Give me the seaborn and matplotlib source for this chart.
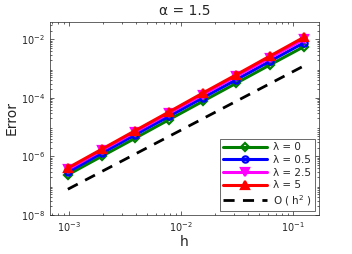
import numpy as np
import pandas as pd
import matplotlib
matplotlib.use("Agg")
import matplotlib.pyplot as plt
import seaborn as sns

h = [1/8, 1/16, 1/32, 1/64, 1/128, 1/256, 1/512, 1/1024]
err_l0 = [5.6e-3, 1.35e-3, 3.2e-4, 7.6e-5, 1.8e-5, 4.2e-6, 1.0e-6, 2.35e-7]
err_l05 = [7.6e-3, 1.8e-3, 4.2e-4, 1.0e-4, 2.35e-5, 5.5e-6, 1.28e-6, 2.9e-7]
err_l25 = [1.0e-2, 2.35e-3, 5.5e-4, 1.28e-4, 3.0e-5, 6.9e-6, 1.6e-6, 3.6e-7]
err_l5 = [1.17e-2, 2.7e-3, 6.2e-4, 1.45e-4, 3.3e-5, 7.6e-6, 1.74e-6, 4.0e-7]
ref_C = 0.079
labels = ["λ = 0", "λ = 0.5", "λ = 2.5", "λ = 5", "O ( h$^2$ )"]

sns.set_style("ticks")
plt.rcParams['font.family'] = ['DejaVu Sans']
plt.rcParams['mathtext.fontset'] = 'dejavusans'

fig = plt.figure(figsize=(3.52, 2.54), dpi=100)
ax = fig.add_axes([0.142, 0.154, 0.764, 0.759])

series = [
    (err_l0, "#007f00", "D", "none", 4.5),
    (err_l05, "#0000ff", "o", "none", 4.5),
    (err_l25, "#ff00ff", "v", "#ff00ff", 5.5),
    (err_l5, "#ff0000", "^", "#ff0000", 5.5),
]
for (vals, col, mk, fc, ms), lab in zip(series, labels[:4]):
    df = pd.DataFrame({"h": h, "err": vals})
    sns.lineplot(data=df, x="h", y="err", ax=ax, color=col, lw=2.2, marker=mk,
                 markersize=ms, markerfacecolor=fc, markeredgecolor=col,
                 markeredgewidth=1.6, label=lab)
ref = [ref_C * v**2 for v in h]
sns.lineplot(x=h, y=ref, ax=ax, color="black", lw=2.0, linestyle=(0, (4, 3)), label=labels[4])

ax.set_xscale("log")
ax.set_yscale("log")
ax.set_xlim(10**-3.17, 10**-0.768)
ax.set_ylim(1e-8, 10**-1.41)
ax.set_yticks([1e-8, 1e-6, 1e-4, 1e-2])
ax.set_xticks([1e-3, 1e-2, 1e-1])
ax.tick_params(which="both", direction="in", top=True, right=True, labelsize=7, width=0.5, color="#262626")
ax.tick_params(which="major", length=3)
ax.tick_params(which="minor", length=1.5)
for s in ax.spines.values():
    s.set_linewidth(0.5)
    s.set_color("#262626")
ax.set_xlabel("h", fontsize=10, labelpad=1)
ax.set_ylabel("Error", fontsize=10, labelpad=2)
ax.set_title("α = 1.5", fontsize=10, pad=5)
leg = ax.legend(loc="lower right", fontsize=7.5, frameon=True, fancybox=False,
                edgecolor="#262626", handlelength=4.2, borderpad=0.3, labelspacing=0.25,
                borderaxespad=0.4, handletextpad=0.6)
leg.get_frame().set_linewidth(0.6)
fig.savefig("out.png", dpi=100)
